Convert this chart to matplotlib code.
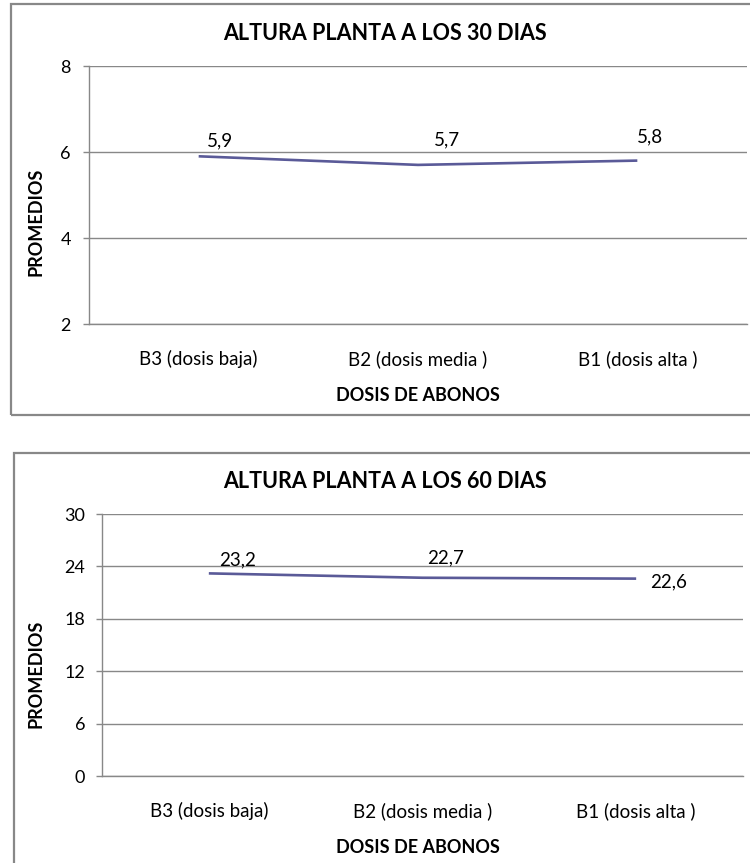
import matplotlib
matplotlib.use("Agg")
import matplotlib.pyplot as plt
from matplotlib.patches import Rectangle

categories = ["B3 (dosis baja)", "B2 (dosis media )", "B1 (dosis alta )"]
values_30 = [5.9, 5.7, 5.8]
labels_30 = ["5,9", "5,7", "5,8"]
values_60 = [23.2, 22.7, 22.6]
labels_60 = ["23,2", "22,7", "22,6"]
yticks_30 = [2, 4, 6, 8]
yticks_60 = [0, 6, 12, 18, 24, 30]
title_30 = "ALTURA PLANTA A LOS 30 DIAS"
title_60 = "ALTURA PLANTA A LOS 60 DIAS"
xlabel = "DOSIS DE ABONOS"
ylabel = "PROMEDIOS"

plt.rcParams['font.family'] = ['Lato', 'DejaVu Sans']

W, H = 750, 863
fig = plt.figure(figsize=(W / 100, H / 100), dpi=100)

GRID = "#888888"
LINE = "#5A5A98"
PX = 0.72  # points per pixel


def fx(x):
    return x / W


def fy(y):
    return 1 - y / H


def make_chart(box, axrect, values, labels, yticks, title, title_y, ylab_y, xlab_y, offsets, tick_pad):
    bx0, by0, bx1, by1 = box
    fig.patches.append(Rectangle((fx(bx0), fy(by1)), fx(bx1 - bx0), (by1 - by0) / H,
                                 transform=fig.transFigure, fill=False,
                                 edgecolor=GRID, linewidth=1.6, zorder=0))
    l, t, r, b = axrect
    ax = fig.add_axes([fx(l), fy(b), fx(r - l), (b - t) / H])
    x = list(range(len(categories)))
    ax.plot(x, values, color=LINE, linewidth=1.9, solid_capstyle='butt')
    ax.set_xlim(-0.5, len(categories) - 0.5)
    ax.set_ylim(yticks[0], yticks[-1])
    ax.set_yticks(yticks)
    ax.set_yticklabels([str(v) for v in yticks])
    ax.set_xticks(x)
    ax.set_xticklabels(categories)
    ax.yaxis.grid(True, color=GRID, linewidth=1.0)
    ax.set_axisbelow(True)
    for s in ["top", "right"]:
        ax.spines[s].set_visible(False)
    ax.spines["left"].set_color(GRID)
    ax.spines["bottom"].set_color(GRID)
    ax.spines["left"].set_linewidth(1.0)
    ax.spines["bottom"].set_linewidth(1.0)
    ax.tick_params(axis='y', length=4.5, width=1.0, color=GRID, pad=tick_pad, labelsize=13, labelcolor="black")
    ax.tick_params(axis='x', length=0, pad=19, labelsize=13.5, labelcolor="black")
    for xi, v, lab, (dx, dy) in zip(x, values, labels, offsets):
        ax.annotate(lab, (xi, v), xytext=(dx * PX, dy * PX), textcoords='offset points',
                    ha='center', va='center', fontsize=13.5, color="black")
    fig.text(fx(385), fy(title_y), title, ha='center', va='center', fontsize=15.5, fontweight='bold')
    fig.text(fx(36), fy(ylab_y), ylabel, ha='center', va='center', rotation=90, fontsize=13, fontweight='bold')
    fig.text(fx(418), fy(xlab_y), xlabel, ha='center', va='center', fontsize=13, fontweight='bold')
    return ax


make_chart((11, 4, 760, 415), (89, 66, 747, 324), values_30, labels_30, yticks_30,
           title_30, 33, 222, 395, [(21, 15), (29, 25), (13, 24)], 8.5)
make_chart((14, 453, 760, 880), (102, 514, 743, 776), values_60, labels_60, yticks_60,
           title_60, 481, 674, 847, [(29, 14), (23, 20), (32, -3)], 7.5)

fig.savefig("out.png", dpi=100)
